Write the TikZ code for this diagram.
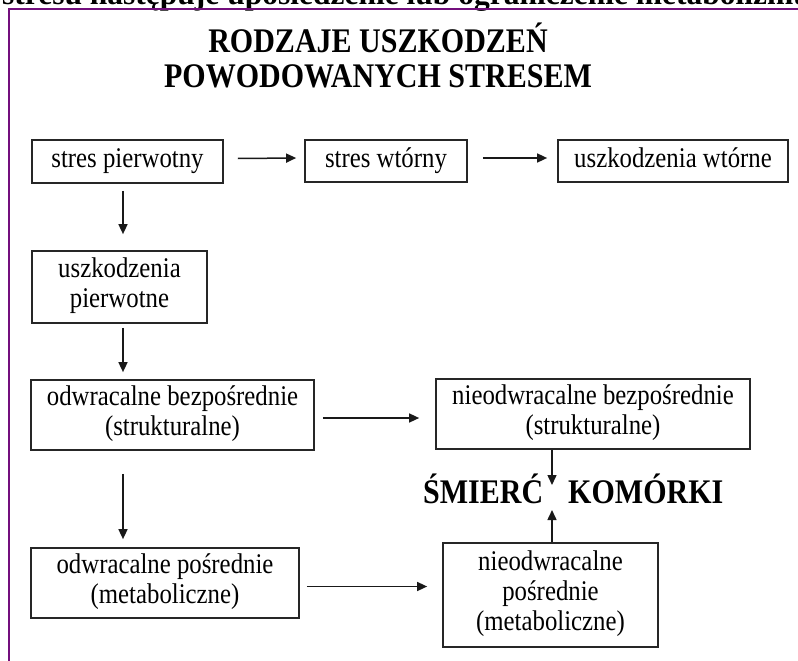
\documentclass[tikz,border=0pt]{standalone}
\usepackage{fontspec}
\setmainfont{Liberation Serif}[BoldFont={Liberation Serif Bold}]
\newfontfamily\tallserif{Liberation Serif}[FakeStretch=0.87, BoldFont={Liberation Serif Bold}]
\usetikzlibrary{arrows.meta}
\definecolor{framepurple}{RGB}{115,15,125}
\newcommand\boxfont{\tallserif\fontsize{28.5}{30}\selectfont}
\newcommand\bigboldfont{\tallserif\bfseries\fontsize{34.5}{35}\selectfont}
\newcommand\headfont{\bfseries\fontsize{31.5}{36}\selectfont}
\begin{document}
\begin{tikzpicture}[x=1pt,y=-1pt,
  box/.style={draw=black!85, line width=1.7pt, inner sep=0pt, align=center, font=\boxfont,
    execute at begin node=\strut, execute at end node=\strut},
  arr/.style={draw=black!90, line width=1.5pt, -{Triangle[length=10pt,width=9pt]}},
  plain/.style={inner sep=0pt, align=center}
]
\useasboundingbox (0,0) rectangle (798,661);
\fill[white] (0,0) rectangle (798,661);
% clipped running headline at the very top
\begin{scope}
  \clip (0,0) rectangle (798,661);
  \node[plain, anchor=base west, font=\headfont] (head) at (2,5) {stresu następuje upośledzenie lub ograniczenie metabolizmu};
\end{scope}
% purple frame
\draw[framepurple, line width=2pt] (9,661) -- (9,9.5) -- (798,9.5);
% title
\node[plain, font=\bigboldfont] (title) at (378,55) {RODZAJE USZKODZEŃ\\POWODOWANYCH STRESEM};
% boxes
\node[box, minimum width=191pt, minimum height=43pt] (s1) at (127.5,161.5) {stres pierwotny};
\node[box, minimum width=162pt, minimum height=42pt] (s2) at (386,161) {stres wtórny};
\node[box, minimum width=230pt, minimum height=42pt] (s3) at (673,161) {uszkodzenia wtórne};
\node[box, minimum width=175pt, minimum height=72pt] (u1) at (119.5,287) {uszkodzenia\\pierwotne};
\node[box, minimum width=283pt, minimum height=70pt] (ob) at (172.5,415) {odwracalne bezpośrednie\\(strukturalne)};
\node[box, minimum width=268pt, minimum height=70pt] (op) at (165,583) {odwracalne pośrednie\\(metaboliczne)};
\node[box, minimum width=314pt, minimum height=70pt] (nb) at (593,414) {nieodwracalne bezpośrednie\\(strukturalne)};
\node[box, minimum width=215pt, minimum height=104pt] (np) at (550.5,595) {nieodwracalne\\pośrednie\\(metaboliczne)};
% cell death label
\node[plain, anchor=base west, font=\bigboldfont] (death) at (423,503) {ŚMIERĆ\hspace*{25pt}KOMÓRKI};
\coordinate (dtop) at (552,485);
\coordinate (dbot) at (552,510);
% connectors
\draw[arr] ([xshift=14pt,yshift=3pt]s1.east) -- ([xshift=-8pt,yshift=3pt]s2.west);
\draw[arr] ([xshift=15pt,yshift=3pt]s2.east) -- ([xshift=-10pt,yshift=3pt]s3.west);
\draw[arr] ([xshift=-4.5pt,yshift=-7pt]s1.south) -- ([xshift=3.5pt,yshift=16pt]u1.north);
\draw[arr] ([xshift=3.5pt,yshift=-4pt]u1.south) -- ([xshift=-49.5pt,yshift=7pt]ob.north);
\draw[arr] ([xshift=-49.5pt,yshift=-23pt]ob.south) -- ([xshift=-42pt,yshift=8pt]op.north);
\draw[arr] ([xshift=8pt,yshift=-3pt]ob.east) -- ([xshift=-16pt,yshift=-4pt]nb.west);
\draw[arr] ([xshift=7pt,yshift=-3.5pt]op.east) -- ([xshift=-15pt,yshift=8.5pt]np.west);
\draw[arr] ([xshift=-41pt]nb.south) -- (dtop);
\draw[arr] ([xshift=1.5pt]np.north) -- (dbot);
\end{tikzpicture}
\end{document}
